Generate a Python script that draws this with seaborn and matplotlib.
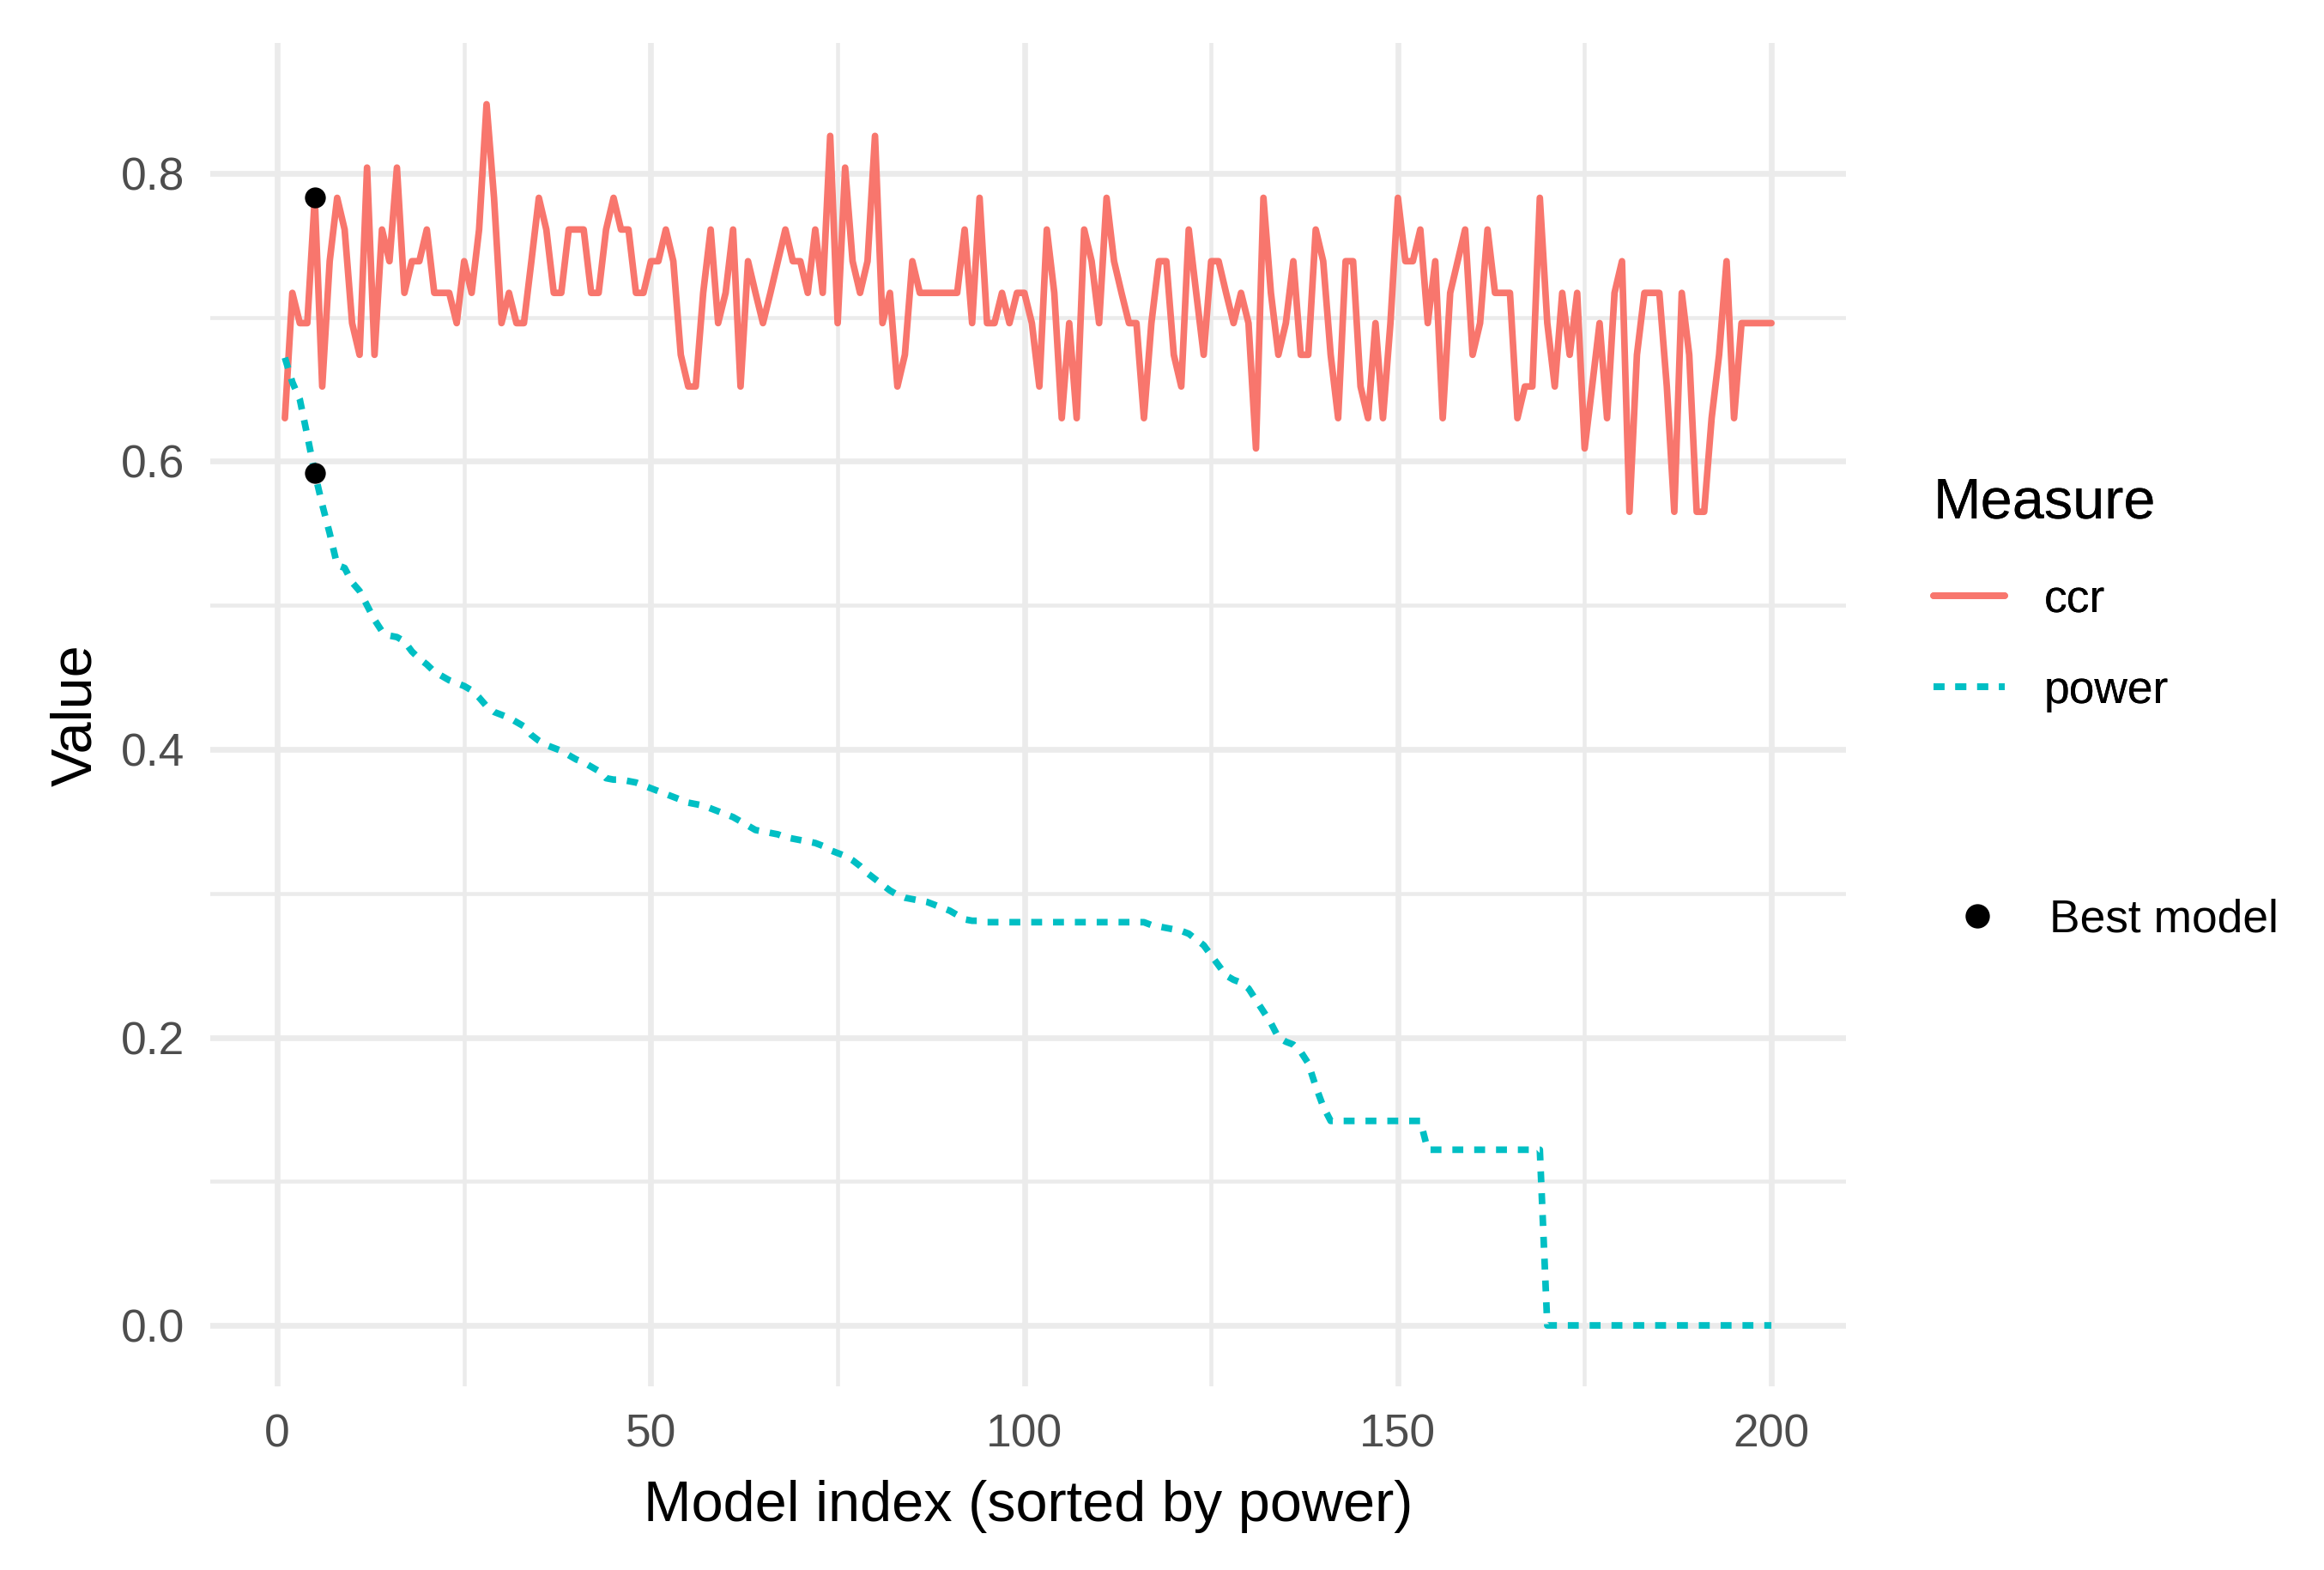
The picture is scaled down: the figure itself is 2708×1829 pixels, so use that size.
import numpy as np
import pandas as pd
import matplotlib
matplotlib.use("Agg")
import matplotlib.pyplot as plt
from matplotlib.lines import Line2D
import seaborn as sns

# ccr per model (index 1..200)
ccr = [
    0.630, 0.717, 0.696, 0.696, 0.783, 0.652, 0.739, 0.783, 0.761, 0.696,
    0.674, 0.804, 0.674, 0.761, 0.739, 0.804, 0.717, 0.739, 0.739, 0.761,
    0.717, 0.717, 0.717, 0.696, 0.739, 0.717, 0.761, 0.848, 0.783, 0.696,
    0.717, 0.696, 0.696, 0.739, 0.783, 0.761, 0.717, 0.717, 0.761, 0.761,
    0.761, 0.717, 0.717, 0.761, 0.783, 0.761, 0.761, 0.717, 0.717, 0.739,
    0.739, 0.761, 0.739, 0.674, 0.652, 0.652, 0.717, 0.761, 0.696, 0.717,
    0.761, 0.652, 0.739, 0.717, 0.696, 0.717, 0.739, 0.761, 0.739, 0.739,
    0.717, 0.761, 0.717, 0.826, 0.696, 0.804, 0.739, 0.717, 0.739, 0.826,
    0.696, 0.717, 0.652, 0.674, 0.739, 0.717, 0.717, 0.717, 0.717, 0.717,
    0.717, 0.761, 0.696, 0.783, 0.696, 0.696, 0.717, 0.696, 0.717, 0.717,
    0.696, 0.652, 0.761, 0.717, 0.630, 0.696, 0.630, 0.761, 0.739, 0.696,
    0.783, 0.739, 0.717, 0.696, 0.696, 0.630, 0.696, 0.739, 0.739, 0.674,
    0.652, 0.761, 0.717, 0.674, 0.739, 0.739, 0.717, 0.696, 0.717, 0.696,
    0.609, 0.783, 0.717, 0.674, 0.696, 0.739, 0.674, 0.674, 0.761, 0.739,
    0.674, 0.630, 0.739, 0.739, 0.652, 0.630, 0.696, 0.630, 0.696, 0.783,
    0.739, 0.739, 0.761, 0.696, 0.739, 0.630, 0.717, 0.739, 0.761, 0.674,
    0.696, 0.761, 0.717, 0.717, 0.717, 0.630, 0.652, 0.652, 0.783, 0.696,
    0.652, 0.717, 0.674, 0.717, 0.609, 0.652, 0.696, 0.630, 0.717, 0.739,
    0.565, 0.674, 0.717, 0.717, 0.717, 0.652, 0.565, 0.717, 0.674, 0.565,
    0.565, 0.630, 0.674, 0.739, 0.630, 0.696, 0.696, 0.696, 0.696, 0.696,
]

# power per model, sorted descending
power = [
    0.672, 0.655, 0.643, 0.618, 0.592, 0.570, 0.550, 0.528, 0.526, 0.516,
    0.510, 0.500, 0.490, 0.482, 0.479, 0.478, 0.475, 0.468, 0.463, 0.459,
    0.454, 0.451, 0.448, 0.446, 0.444, 0.441, 0.436, 0.430, 0.426, 0.424,
    0.422, 0.419, 0.416, 0.410, 0.406, 0.403, 0.401, 0.399, 0.396, 0.393,
    0.391, 0.388, 0.385, 0.380, 0.379, 0.379, 0.378, 0.377, 0.375, 0.373,
    0.371, 0.369, 0.367, 0.365, 0.363, 0.362, 0.361, 0.359, 0.357, 0.355,
    0.353, 0.350, 0.347, 0.344, 0.343, 0.342, 0.341, 0.339, 0.338, 0.337,
    0.336, 0.335, 0.333, 0.330, 0.328, 0.326, 0.323, 0.319, 0.314, 0.310,
    0.306, 0.302, 0.299, 0.297, 0.296, 0.295, 0.294, 0.292, 0.290, 0.288,
    0.285, 0.282, 0.281, 0.281, 0.280, 0.280, 0.280, 0.280, 0.280, 0.280,
    0.280, 0.280, 0.280, 0.280, 0.280, 0.280, 0.280, 0.280, 0.280, 0.280,
    0.280, 0.280, 0.280, 0.280, 0.280, 0.280, 0.278, 0.277, 0.276, 0.275,
    0.274, 0.272, 0.268, 0.264, 0.257, 0.250, 0.243, 0.240, 0.238, 0.234,
    0.226, 0.218, 0.210, 0.200, 0.197, 0.195, 0.190, 0.182, 0.166, 0.152,
    0.142, 0.142, 0.142, 0.142, 0.142, 0.142, 0.142, 0.142, 0.142, 0.142,
    0.142, 0.142, 0.142, 0.122, 0.122, 0.122, 0.122, 0.122, 0.122, 0.122,
    0.122, 0.122, 0.122, 0.122, 0.122, 0.122, 0.122, 0.122, 0.122, 0.000,
    0.000, 0.000, 0.000, 0.000, 0.000, 0.000, 0.000, 0.000, 0.000, 0.000,
    0.000, 0.000, 0.000, 0.000, 0.000, 0.000, 0.000, 0.000, 0.000, 0.000,
    0.000, 0.000, 0.000, 0.000, 0.000, 0.000, 0.000, 0.000, 0.000, 0.000,
]

model_index = list(range(1, 201))
best_model = 5
measures = ["ccr", "power"]
colors = {"ccr": "#F8766D", "power": "#00BFC4"}

df = pd.DataFrame({
    "index": model_index * 2,
    "value": ccr + power,
    "Measure": ["ccr"] * len(ccr) + ["power"] * len(power),
})
best = df[df["index"] == best_model]

sns.set_style("white")
plt.rcParams["font.family"] = ["Liberation Sans", "DejaVu Sans"]
plt.rcParams["text.color"] = "black"
plt.rcParams["axes.labelcolor"] = "black"

fig = plt.figure(figsize=(2708 / 300, 1829 / 300), dpi=300)
ax = fig.add_axes([0.0906, 0.1169, 0.7036, 0.8556])

lw = 1.85
dash = (1.65, 1.65)
sns.lineplot(data=df, x="index", y="value", hue="Measure", style="Measure",
             palette=colors, dashes={"ccr": "", "power": dash},
             linewidth=lw, errorbar=None, legend=False, ax=ax)
sns.scatterplot(data=best, x="index", y="value", color="black", s=34,
                linewidth=0, legend=False, ax=ax, zorder=5)

# ggplot-like expansion
xmin, xmax = min(model_index), max(model_index)
ymin, ymax = df["value"].min(), df["value"].max()
ax.set_xlim(xmin - 0.05 * (xmax - xmin), xmax + 0.05 * (xmax - xmin))
ax.set_ylim(ymin - 0.05 * (ymax - ymin), ymax + 0.05 * (ymax - ymin))

ax.set_xticks([0, 50, 100, 150, 200])
ax.set_xticks([25, 75, 125, 175], minor=True)
ax.set_yticks([0.0, 0.2, 0.4, 0.6, 0.8])
ax.set_yticks([0.1, 0.3, 0.5, 0.7], minor=True)
ax.set_yticklabels(["0.0", "0.2", "0.4", "0.6", "0.8"])
ax.grid(which="major", color="#EBEBEB", linewidth=1.6)
ax.grid(which="minor", color="#EBEBEB", linewidth=1.1)
ax.set_axisbelow(True)
for s in ax.spines.values():
    s.set_visible(False)
ax.tick_params(which="both", length=0, labelsize=12.8, labelcolor="#4D4D4D")
ax.tick_params(axis="x", pad=7.5)
ax.tick_params(axis="y", pad=7.2)

ax.set_xlabel("Model index (sorted by power)", fontsize=16, labelpad=6.5, color="black")
ax.set_ylabel("Value", fontsize=16, labelpad=5, color="black")

handles = [
    Line2D([], [], color=colors["ccr"], lw=lw),
    Line2D([], [], color=colors["power"], lw=lw, dashes=dash),
]
leg1 = fig.legend(handles, measures, title="Measure", loc="upper left",
                  bbox_to_anchor=(2253 / 2708, 1 - 556 / 1829),
                  frameon=False, fontsize=12.8, title_fontsize=16,
                  handlelength=1.56, handletextpad=0.85, labelspacing=1.05,
                  borderpad=0, borderaxespad=0, alignment="left")
fig.add_artist(leg1)

dot = Line2D([], [], color="black", marker="o", linestyle="none", markersize=5.8)
fig.legend([dot], ["Best model"], loc="center left",
           bbox_to_anchor=(2262 / 2708, 1 - 1072 / 1829),
           frameon=False, fontsize=12.8, handlelength=1.56, handletextpad=0.8,
           borderpad=0, borderaxespad=0)

fig.savefig("out.png", dpi=300)
